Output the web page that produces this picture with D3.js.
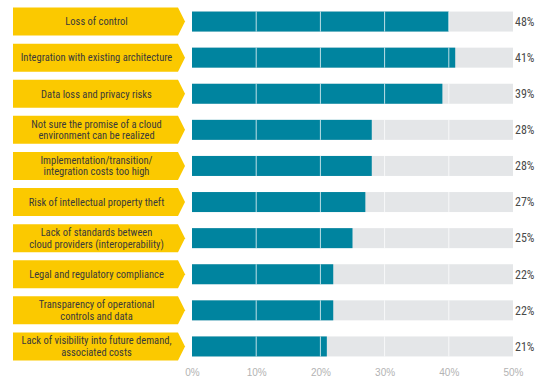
<!DOCTYPE html>
<html>
<head>
<meta charset="utf-8">
<script src="https://d3js.org/d3.v7.min.js"></script>
<style>
  body { margin: 0; background: #fff; }
  svg { display: block; }
  text { font-family: "Liberation Sans Narrow", "Roboto Condensed", "Liberation Sans", sans-serif; }
</style>
</head>
<body>
<div id="chart"></div>
<script>
// categories (each label split into its lines)
var categories = [
  ["Loss of control"],
  ["Integration with existing architecture"],
  ["Data loss and privacy risks"],
  ["Not sure the promise of a cloud", "environment can be realized"],
  ["Implementation/transition/", "integration costs too high"],
  ["Risk of intellectual property theft"],
  ["Lack of standards between", "cloud providers (interoperability)"],
  ["Legal and regulatory compliance"],
  ["Transparency of operational", "controls and data"],
  ["Lack of visibility into future demand,", "associated costs"]
];
// bar lengths as drawn, and the printed labels
var barValues = [40, 41, 39, 28, 28, 27, 25, 22, 22, 21];
var valueLabels = ["48%", "41%", "39%", "28%", "28%", "27%", "25%", "22%", "22%", "21%"];
var ticks = [0, 10, 20, 30, 40, 50];

var W = 541, H = 379;
var svg = d3.select("#chart").append("svg")
  .attr("width", W).attr("height", H);

var x = d3.scaleLinear().domain([0, 50]).range([192, 513]);
var y = d3.scaleBand()
  .domain(d3.range(categories.length))
  .range([3.5, 364.5]);

var barH = 20, tagH = 28, tagL = 13, tagR = 178, tip = 7;

var rows = svg.selectAll(".row")
  .data(categories)
  .enter().append("g")
  .attr("class", "row")
  .attr("transform", function (d, i) { return "translate(0," + (y(i) + y.bandwidth() / 2) + ")"; });

// yellow arrow tags
rows.append("path")
  .attr("d", "M" + tagL + "," + (-tagH / 2) + "H" + tagR + "L" + (tagR + tip) + ",0L" + tagR + "," + (tagH / 2) + "H" + tagL + "Z")
  .attr("fill", "#fbc900");

rows.append("text")
  .attr("text-anchor", "middle")
  .attr("fill", "#3a3a3a")
  .style("font-size", "10.5px")
  .each(function (d) {
    var t = d3.select(this);
    var lh = 11.5;
    var y0 = -(d.length - 1) * lh / 2;
    d.forEach(function (line, k) {
      t.append("tspan")
        .attr("x", (tagL + tagR) / 2 + 1)
        .attr("y", y0 + k * lh)
        .attr("dy", "0.36em")
        .text(line);
    });
  });

// grey track
rows.append("rect")
  .attr("x", x(0)).attr("y", -barH / 2)
  .attr("width", x(50) - x(0)).attr("height", barH)
  .attr("fill", "#e4e6e8");

// teal bar
rows.append("rect")
  .attr("x", x(0)).attr("y", -barH / 2)
  .attr("width", function (d, i) { return x(barValues[i]) - x(0); })
  .attr("height", barH)
  .attr("fill", "#00849f");

// white grid lines across the bars
rows.selectAll(".grid")
  .data([10, 20, 30, 40])
  .enter().append("line")
  .attr("x1", function (d) { return x(d); })
  .attr("x2", function (d) { return x(d); })
  .attr("y1", -barH / 2).attr("y2", barH / 2)
  .attr("stroke", "#fff").attr("stroke-opacity", 0.75)
  .attr("stroke-width", 1);

// value labels
rows.append("text")
  .attr("x", 515)
  .attr("dy", "0.36em")
  .attr("fill", "#4a4a4a")
  .style("font-size", "12px")
  .text(function (d, i) { return valueLabels[i]; });

// bottom axis
var axis = svg.append("g")
  .attr("transform", "translate(0,376)")
  .call(d3.axisBottom(x).tickValues(ticks).tickSize(0).tickPadding(0)
    .tickFormat(function (d) { return d + "%"; }));
axis.select(".domain").remove();
axis.selectAll("text")
  .attr("y", 0).attr("dy", 0)
  .attr("fill", "#b3b3b3")
  .style("font-size", "10px")
  .style("font-family", "\"Liberation Sans Narrow\", \"Liberation Sans\", sans-serif");
</script>
</body>
</html>
